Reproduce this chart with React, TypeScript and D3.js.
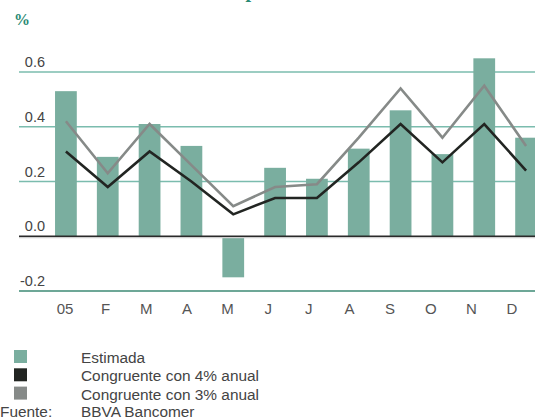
import React from 'react';
import * as d3 from 'd3';

const months = ['05', 'F', 'M', 'A', 'M', 'J', 'J', 'A', 'S', 'O', 'N', 'D'];
const estimada = [0.53, 0.29, 0.41, 0.33, -0.15, 0.25, 0.21, 0.32, 0.46, 0.3, 0.65, 0.36];
const congruente4 = [0.31, 0.18, 0.31, 0.2, 0.08, 0.14, 0.14, 0.27, 0.41, 0.27, 0.41, 0.24];
const congruente3 = [0.42, 0.23, 0.41, 0.26, 0.11, 0.18, 0.19, 0.36, 0.54, 0.36, 0.55, 0.33];
const yTicks = [0.6, 0.4, 0.2, 0.0, -0.2];
const legendItems = [
  { label: 'Estimada', color: '#7aae9f' },
  { label: 'Congruente con 4% anual', color: '#222522' },
  { label: 'Congruente con 3% anual', color: '#868a88' }
];

const width = 535;
const height = 419;
const font = '"Liberation Sans", Arial, sans-serif';

// plain hyphen for negatives, like the original
const fmt = (v: number) => (v < 0 ? '-' : '') + Math.abs(v).toFixed(1);

const App = () => {
  const x = d3.scaleBand<string>()
    .domain(months.map((m, i) => String(i)))
    .range([45, 547])
    .paddingInner(0.48)
    .paddingOuter(0.24);
  // the month labels sit on a slightly tighter spacing than the bars
  const xLabel = d3.scalePoint<string>()
    .domain(months.map((m, i) => String(i)))
    .range([65, 512]);
  const y = d3.scaleLinear().domain([-0.2, 0.6]).range([291, 72]);

  const line = d3.line<number>()
    .x((d, i) => (x(String(i)) as number) + x.bandwidth() / 2)
    .y(d => y(d));

  return (
    <svg width={width} height={height} style={{ position: 'absolute', left: 0, top: 0 }}
      fontFamily={font}>
      <text x={251} y={-3} textAnchor="middle" fontFamily='"Liberation Serif", serif'
        fontWeight="bold" fontSize={20} fill="#2a8a74">p</text>
      <text x={14} y={25} fontSize={16} fontWeight="bold" fill="#2a8a74"
        fontFamily='"Liberation Serif", serif'>%</text>

      {yTicks.map(t => (
        <g key={t}>
          {t !== 0 && (
            <line x1={19} x2={width} y1={y(t)} y2={y(t)}
              stroke={t === -0.2 ? '#3d8a74' : '#7bbcae'} strokeWidth={1.6} />
          )}
          <text x={45} y={y(t) - 5} textAnchor="end" fontSize={14.5} fill="#444">
            {fmt(t)}
          </text>
        </g>
      ))}

      <g fill="#7aae9f">
        {estimada.map((v, i) => (
          <rect key={i} x={x(String(i))} width={x.bandwidth()}
            y={y(Math.max(0, v))} height={Math.abs(y(v) - y(0))} />
        ))}
      </g>

      <line x1={19} x2={width} y1={y(0) + 1} y2={y(0) + 1} stroke="#cfcfcf" strokeWidth={2} />
      <line x1={19} x2={width} y1={y(0)} y2={y(0)} stroke="#2a2a2a" strokeWidth={1.4} />

      <path d={line(congruente3) ?? ''} fill="none" stroke="#868a88" strokeWidth={2.6}
        strokeLinejoin="miter" />
      <path d={line(congruente4) ?? ''} fill="none" stroke="#222522" strokeWidth={2.6}
        strokeLinejoin="miter" />

      {months.map((m, i) => (
        <text key={i} x={xLabel(String(i))} y={314} textAnchor="middle" fontSize={15}
          fill="#555">{m}</text>
      ))}

      {legendItems.map((d, i) => (
        <g key={d.label} transform={`translate(0, ${350 + i * 18.3})`}>
          <rect x={14} y={0} width={13} height={13} fill={d.color} />
          <text x={81} y={13} fontSize={15.4} fill="#444">{d.label}</text>
        </g>
      ))}
      <text x={0} y={417} fontSize={15.4} fill="#444">Fuente:</text>
      <text x={81} y={417} fontSize={15.4} fill="#444">BBVA Bancomer</text>
    </svg>
  );
};

export default App;
